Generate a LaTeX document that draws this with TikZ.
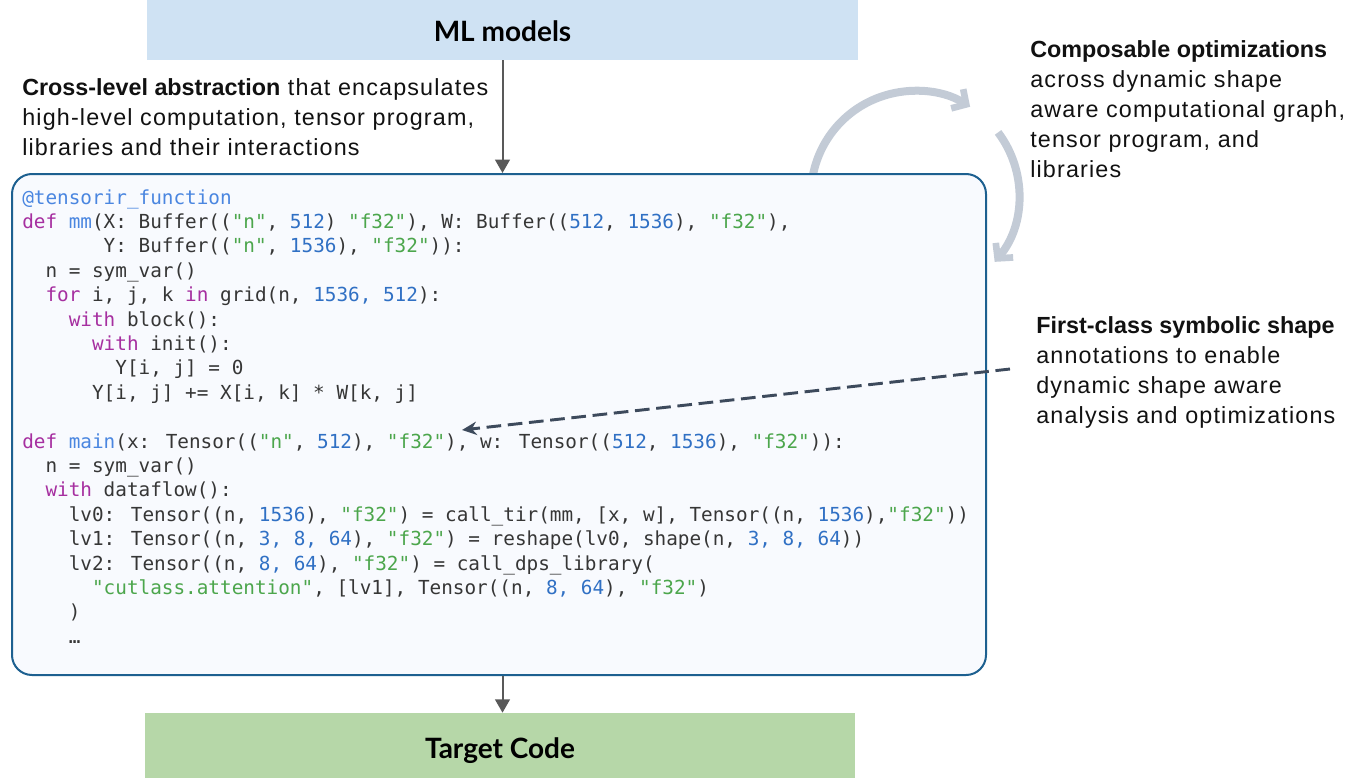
\documentclass[tikz,border=0pt]{standalone}
\usepackage{fontspec}
\setmainfont{Liberation Sans}[LetterSpace=5, BoldFeatures={LetterSpace=0}]
\newfontfamily\codefont{DejaVu Sans Mono}
\newfontfamily\headfont{Lato}
\usetikzlibrary{arrows.meta}

\definecolor{mlblue}{HTML}{CFE2F3}
\definecolor{tgreen}{HTML}{B6D7A8}
\definecolor{boxedge}{HTML}{1D6090}
\definecolor{boxfill}{HTML}{F8FAFE}
\definecolor{flowgray}{HTML}{595959}
\definecolor{cyclegray}{HTML}{C3CBD6}
\definecolor{dashslate}{HTML}{3D4A5C}
\definecolor{kwpurple}{HTML}{A62FA0}
\definecolor{fnblue}{HTML}{4A86E0}
\definecolor{numblue}{HTML}{3070C4}
\definecolor{strgreen}{HTML}{4CA64C}
\definecolor{codetext}{HTML}{363636}
\definecolor{notetext}{HTML}{111111}

% syntax colouring helpers
\newcommand\ckw[1]{\textcolor{kwpurple}{#1}}
\newcommand\cfn[1]{\textcolor{fnblue}{#1}}
\newcommand\cnum[1]{\textcolor{numblue}{#1}}
\newcommand\cstr[1]{\textcolor{strgreen}{#1}}
\newcommand\codepad[1]{\hspace*{#1\fontcharwd\font`x}}

\begin{document}
\begin{tikzpicture}[x=0.75pt,y=-0.75pt,
  titlebox/.style={minimum width=#1, inner sep=0pt, draw=none},
  titletext/.style={anchor=base, inner sep=0pt, font=\headfont\bfseries\fontsize{21}{24}\selectfont, text=black},
  note/.style={anchor=base west, inner sep=0pt, font=\fontsize{17.5}{20}\selectfont, text=notetext},
  codeline/.style={anchor=base west, inner sep=0pt, font=\codefont\fontsize{14.5}{17}\selectfont, text=codetext},
  flow/.style={draw=flowgray, line width=1.5pt, -{Triangle[length=10pt,width=11pt]}},
  cyc/.style={draw=cyclegray, line width=6pt, -{Straight Barb[length=8pt,width=17pt,line width=5pt]}},
  dashptr/.style={draw=dashslate, line width=2.2pt, dash pattern=on 11pt off 5pt, -{Stealth[length=11pt,width=10pt]}}
]
\useasboundingbox (0,0) rectangle (1350,778);

% title boxes
\node[titlebox=533.25pt, minimum height=45pt, fill=mlblue] (ml) at (502.5,30) {};
\node[titletext] (mllbl) at (502.5,41) {ML models};
\node[titlebox=532.5pt, minimum height=48.75pt, fill=tgreen] (target) at (500,745.5) {};
\node[titletext] (targetlbl) at (500,758) {Target Code};

% optimisation cycle, partly hidden behind the code panel
\coordinate (cc) at (915,195);
\draw[cyc] ([shift={(172:78pt)}]cc) arc[start angle=172, end angle=58, radius=78pt];
\draw[cyc] ([shift={(37:78pt)}]cc) arc[start angle=37, end angle=-40, radius=78pt];

% code panel
\node[draw=boxedge, fill=boxfill, line width=1.5pt, rounded corners=15pt,
      minimum width=730.5pt, minimum height=375.75pt, inner sep=0pt] (code) at (499,424.5) {};

\draw[flow] (ml.south) -- (ml.south |- code.north);
\draw[flow] (ml.south |- code.south) -- (ml.south |- target.north);

% program listing
\node[codeline] (l0)  at (22,204)   {\cfn{@tensorir\_function}};
\node[codeline] (l1)  at (22,228.4) {\ckw{def} \cfn{mm}(X: Buffer((\cstr{"n"}, \cnum{512}) \cstr{"f32"}), W: Buffer((\cnum{512}, \cnum{1536}), \cstr{"f32"}),};
\node[codeline] (l2)  at (22,252.8) {\codepad{7}Y: Buffer((\cstr{"n"}, \cnum{1536}), \cstr{"f32"})):};
\node[codeline] (l3)  at (22,277.2) {\codepad{2}n = sym\_var()};
\node[codeline] (l4)  at (22,301.6) {\codepad{2}\ckw{for} i, j, k \ckw{in} grid(n, \cnum{1536, 512}):};
\node[codeline] (l5)  at (22,326)   {\codepad{4}\ckw{with} block():};
\node[codeline] (l6)  at (22,350.4) {\codepad{6}\ckw{with} init():};
\node[codeline] (l7)  at (22,374.8) {\codepad{8}Y[i, j] = 0};
\node[codeline] (l8)  at (22,399.2) {\codepad{6}Y[i, j] += X[i, k] * W[k, j]};
\node[codeline] (l10) at (22,448)   {\ckw{def} \cfn{main}(x: Tensor((\cstr{"n"}, \cnum{512}), \cstr{"f32"}), w: Tensor((\cnum{512}, \cnum{1536}), \cstr{"f32"})):};
\node[codeline] (l11) at (22,472.4) {\codepad{2}n = sym\_var()};
\node[codeline] (l12) at (22,496.8) {\codepad{2}\ckw{with} dataflow():};
\node[codeline] (l13) at (22,521.2) {\codepad{4}lv0: Tensor((n, \cnum{1536}), \cstr{"f32"}) = call\_tir(mm, [x, w], Tensor((n, \cnum{1536}),\cstr{"f32"}))};
\node[codeline] (l14) at (22,545.6) {\codepad{4}lv1: Tensor((n, \cnum{3, 8, 64}), \cstr{"f32"}) = reshape(lv0, shape(n, \cnum{3, 8, 64}))};
\node[codeline] (l15) at (22,570)   {\codepad{4}lv2: Tensor((n, \cnum{8, 64}), \cstr{"f32"}) = call\_dps\_library(};
\node[codeline] (l16) at (22,594.4) {\codepad{6}\cstr{"cutlass.attention"}, [lv1], Tensor((n, \cnum{8, 64}), \cstr{"f32"})};
\node[codeline] (l17) at (22,618.8) {\codepad{4})};
\node[codeline] (l18) at (22,643.2) {\codepad{4}…};

% annotations
\node[note] (xl1) at (22,95)  {\textbf{Cross-level abstraction} that encapsulates};
\node[note] (xl2) at (22,125) {high-level computation, tensor program,};
\node[note] (xl3) at (22,155) {libraries and their interactions};

\node[note] (co1) at (1030,57)  {\textbf{Composable optimizations}};
\node[note] (co2) at (1030,87)  {across dynamic shape};
\node[note] (co3) at (1030,117) {aware computational graph,};
\node[note] (co4) at (1030,147) {tensor program, and};
\node[note] (co5) at (1030,177) {libraries};

\node[note] (fc1) at (1036,333) {\textbf{First-class symbolic shape}};
\node[note] (fc2) at (1036,363) {annotations to enable};
\node[note] (fc3) at (1036,393) {dynamic shape aware};
\node[note] (fc4) at (1036,423) {analysis and optimizations};

% pointer from the shape annotation note into the listing
\coordinate (dstart) at (1010,369);
\coordinate (dend) at (462,430);
\draw[dashptr] (dstart) -- (dend);
\end{tikzpicture}
\end{document}
